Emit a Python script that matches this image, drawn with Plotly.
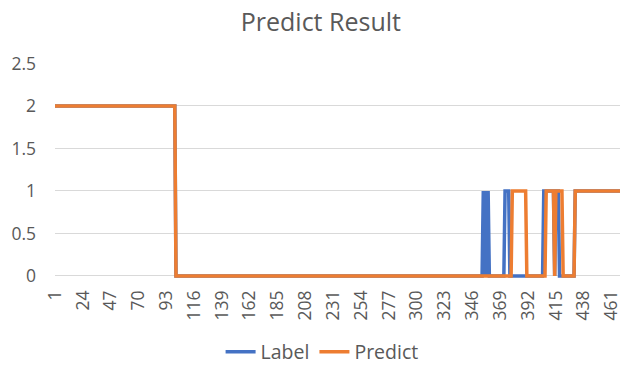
import plotly.graph_objects as go

# Series as runs of (value, number of consecutive samples), samples 1..468
LABEL_RUNS = [(2, 100), (0, 254), (1, 1), (0, 1), (1, 1), (0, 1), (1, 1),
              (0, 13), (1, 4), (0, 28), (1, 9), (0, 1), (1, 3), (0, 13),
              (1, 38)]
PREDICT_RUNS = [(2, 100), (0, 278), (1, 12), (0, 16), (1, 7), (0, 1), (1, 6),
                (0, 10), (1, 38)]

X_TICKS = [1, 24, 47, 70, 93, 116, 139, 162, 185, 208, 231, 254, 277, 300,
           323, 346, 369, 392, 415, 438, 461]
Y_TICKS = [0, 0.5, 1, 1.5, 2, 2.5]


def expand(runs):
    out = []
    for value, count in runs:
        out.extend([value] * count)
    return out


label = expand(LABEL_RUNS)
predict = expand(PREDICT_RUNS)
x = list(range(1, len(label) + 1))

FONT = "Open Sans"
GRAY = "#595959"

fig = go.Figure()
fig.add_trace(go.Scatter(x=x, y=label, mode="lines", name="Label",
                         line=dict(color="#4472C4", width=3.5)))
fig.add_trace(go.Scatter(x=x, y=predict, mode="lines", name="Predict",
                         line=dict(color="#ED7D31", width=3.5)))

fig.update_layout(
    width=623, height=366,
    margin=dict(l=55, r=1, t=63, b=88),
    paper_bgcolor="white", plot_bgcolor="white",
    title=dict(text="Predict Result", x=0.515, xref="container",
               y=0.94, yref="container", xanchor="center", yanchor="middle",
               font=dict(family=FONT, size=25, color=GRAY)),
    legend=dict(orientation="h", x=0.517, xref="container", xanchor="center",
                y=0.038, yref="container", yanchor="middle",
                font=dict(family=FONT, size=19.5, color=GRAY)),
    showlegend=True,
)
fig.update_xaxes(range=[1, 468], tickvals=X_TICKS,
                 ticktext=[str(v) for v in X_TICKS], tickangle=-90,
                 showgrid=False, zeroline=False, showline=False, ticks="",
                 ticklabelstandoff=8, ticklabeloverflow="allow",
                 tickfont=dict(family=FONT, size=17.5, color=GRAY))
fig.update_yaxes(range=[-0.025, 2.505], tickvals=Y_TICKS,
                 ticktext=["0", "0.5", "1", "1.5", "2", "2.5"],
                 showgrid=True, gridcolor="#D9D9D9", gridwidth=1,
                 zeroline=False, showline=False, ticks="",
                 ticklabelstandoff=18,
                 tickfont=dict(family=FONT, size=17.5, color=GRAY))

fig.write_html("out.html")
